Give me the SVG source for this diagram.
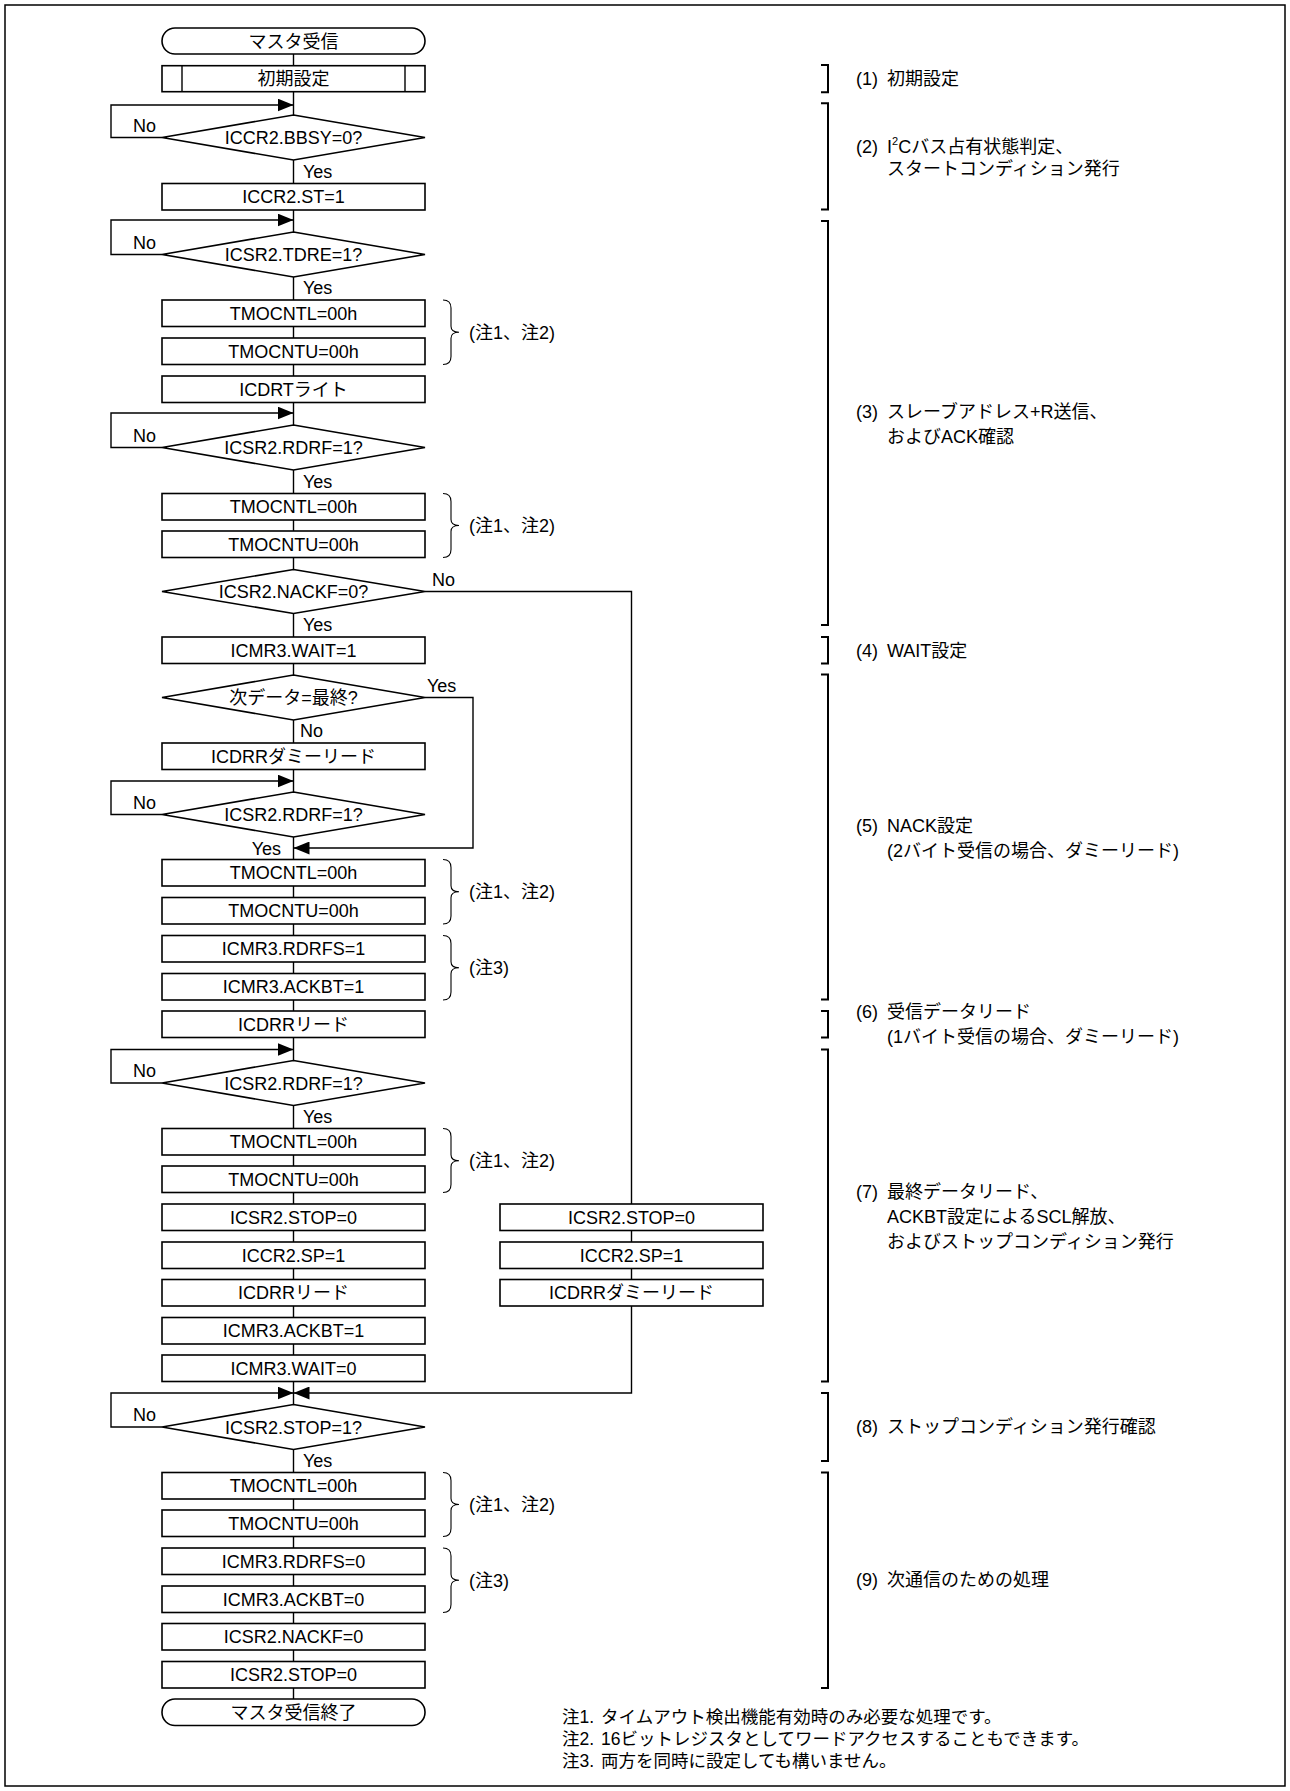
<svg xmlns="http://www.w3.org/2000/svg" width="1290" height="1791" viewBox="0 0 1290 1791">
<style>
text{font-family:"Liberation Sans","Noto Sans CJK JP",sans-serif;font-size:18px;fill:#000}
.c{text-anchor:middle}
.e{text-anchor:end}
.nt{font-size:17.5px}
.box{fill:#fff;stroke:#000;stroke-width:1.6}
.ln{fill:none;stroke:#000;stroke-width:1.4}
.br{fill:none;stroke:#000;stroke-width:2}
.bc{fill:none;stroke:#000;stroke-width:1.1}
</style>
<defs>
<marker id="ah" markerUnits="userSpaceOnUse" markerWidth="17" markerHeight="13" refX="16" refY="6.5" orient="auto">
<path d="M0,0 L16,6.5 L0,13 z" fill="#000"/>
</marker>
</defs>
<rect x="5" y="5" width="1280" height="1781" fill="#fff" stroke="#000" stroke-width="1.5"/>
<g id="connectors">
<path class="ln" d="M293.5,54 V65.7 M293.5,91.7 V115 M293.5,160 V183.5 M293.5,210 V232 M293.5,277 V300 M293.5,326.5 V338 M293.5,364.5 V376 M293.5,402.5 V425 M293.5,470 V493.5 M293.5,520 V531 M293.5,557.5 V569.5 M293.5,613.5 V637 M293.5,663.5 V675 M293.5,720 V743 M293.5,769.5 V792 M293.5,837 V859.5 M293.5,886 V897.5 M293.5,924 V935.5 M293.5,962 V973.5 M293.5,1000 V1011 M293.5,1037.5 V1060.5 M293.5,1105.5 V1128.5 M293.5,1155 V1166 M293.5,1192.5 V1204 M293.5,1230.5 V1242 M293.5,1268.5 V1279.5 M293.5,1306 V1317.5 M293.5,1344 V1355 M293.5,1381.5 V1404.5 M293.5,1449.5 V1472.5 M293.5,1499 V1510 M293.5,1536.5 V1548 M293.5,1574.5 V1586 M293.5,1612.5 V1623.5 M293.5,1650 V1661.5 M293.5,1688 V1699 M631.5,1230.5 V1242 M631.5,1268.5 V1279.5"/>
<path class="ln" d="M162,137.5 H111 V105 H293.5" marker-end="url(#ah)"/>
<path class="ln" d="M162,254.5 H111 V220 H293.5" marker-end="url(#ah)"/>
<path class="ln" d="M162,447.5 H111 V413 H293.5" marker-end="url(#ah)"/>
<path class="ln" d="M162,814.5 H111 V781 H293.5" marker-end="url(#ah)"/>
<path class="ln" d="M162,1083 H111 V1049.5 H293.5" marker-end="url(#ah)"/>
<path class="ln" d="M162,1427 H111 V1393 H293.5" marker-end="url(#ah)"/>
<path class="ln" d="M425,697.5 H473 V848 H293.5" marker-end="url(#ah)"/>
<path class="ln" d="M425,591.5 H631.5 V1204"/>
<path class="ln" d="M631.5,1306 V1393 H293.5" marker-end="url(#ah)"/>
<text x="133" y="131.5">No</text>
<text x="303" y="177.5">Yes</text>
<text x="133" y="248.5">No</text>
<text x="303" y="294">Yes</text>
<text x="133" y="441.5">No</text>
<text x="303" y="487.5">Yes</text>
<text x="432" y="586">No</text>
<text x="303" y="631">Yes</text>
<text x="427" y="692">Yes</text>
<text x="300" y="737">No</text>
<text x="133" y="808.5">No</text>
<text class="e" x="281" y="854.5">Yes</text>
<text x="133" y="1077">No</text>
<text x="303" y="1122.5">Yes</text>
<text x="133" y="1421">No</text>
<text x="303" y="1466.5">Yes</text>
</g>
<g id="n-start"><rect class="box" x="162" y="28" width="263" height="26" rx="13" ry="13"/><text class="c" x="293.5" y="47.5">マスタ受信</text></g>
<g id="n-init"><rect class="box" x="162" y="65.7" width="263" height="26"/><path class="ln" d="M182,65.7 V91.7 M405,65.7 V91.7"/><text class="c" x="293.5" y="85">初期設定</text></g>
<g id="d-bbsy"><polygon class="box" points="293.5,115 425,137.5 293.5,160 162,137.5"/><text class="c" x="293.5" y="144">ICCR2.BBSY=0?</text></g>
<g id="n-st"><rect class="box" x="162" y="183.5" width="263" height="26.5"/><text class="c" x="293.5" y="203">ICCR2.ST=1</text></g>
<g id="d-tdre"><polygon class="box" points="293.5,232 425,254.5 293.5,277 162,254.5"/><text class="c" x="293.5" y="261">ICSR2.TDRE=1?</text></g>
<g id="n-tl1"><rect class="box" x="162" y="300" width="263" height="26.5"/><text class="c" x="293.5" y="319.5">TMOCNTL=00h</text></g>
<g id="n-tu1"><rect class="box" x="162" y="338" width="263" height="26.5"/><text class="c" x="293.5" y="357.5">TMOCNTU=00h</text></g>
<g id="n-icdrt"><rect class="box" x="162" y="376" width="263" height="26.5"/><text class="c" x="293.5" y="395.5">ICDRTライト</text></g>
<g id="d-rdrf1"><polygon class="box" points="293.5,425 425,447.5 293.5,470 162,447.5"/><text class="c" x="293.5" y="454">ICSR2.RDRF=1?</text></g>
<g id="n-tl2"><rect class="box" x="162" y="493.5" width="263" height="26.5"/><text class="c" x="293.5" y="513">TMOCNTL=00h</text></g>
<g id="n-tu2"><rect class="box" x="162" y="531" width="263" height="26.5"/><text class="c" x="293.5" y="550.5">TMOCNTU=00h</text></g>
<g id="d-nackf"><polygon class="box" points="293.5,569.5 425,591.5 293.5,613.5 162,591.5"/><text class="c" x="293.5" y="598">ICSR2.NACKF=0?</text></g>
<g id="n-wait1"><rect class="box" x="162" y="637" width="263" height="26.5"/><text class="c" x="293.5" y="656.5">ICMR3.WAIT=1</text></g>
<g id="d-last"><polygon class="box" points="293.5,675 425,697.5 293.5,720 162,697.5"/><text class="c" x="293.5" y="704">次データ=最終?</text></g>
<g id="n-dummy1"><rect class="box" x="162" y="743" width="263" height="26.5"/><text class="c" x="293.5" y="762.5">ICDRRダミーリード</text></g>
<g id="d-rdrf2"><polygon class="box" points="293.5,792 425,814.5 293.5,837 162,814.5"/><text class="c" x="293.5" y="821">ICSR2.RDRF=1?</text></g>
<g id="n-tl3"><rect class="box" x="162" y="859.5" width="263" height="26.5"/><text class="c" x="293.5" y="879">TMOCNTL=00h</text></g>
<g id="n-tu3"><rect class="box" x="162" y="897.5" width="263" height="26.5"/><text class="c" x="293.5" y="917">TMOCNTU=00h</text></g>
<g id="n-rdrfs1"><rect class="box" x="162" y="935.5" width="263" height="26.5"/><text class="c" x="293.5" y="955">ICMR3.RDRFS=1</text></g>
<g id="n-ackbt1"><rect class="box" x="162" y="973.5" width="263" height="26.5"/><text class="c" x="293.5" y="993">ICMR3.ACKBT=1</text></g>
<g id="n-read1"><rect class="box" x="162" y="1011" width="263" height="26.5"/><text class="c" x="293.5" y="1030.5">ICDRRリード</text></g>
<g id="d-rdrf3"><polygon class="box" points="293.5,1060.5 425,1083 293.5,1105.5 162,1083"/><text class="c" x="293.5" y="1089.5">ICSR2.RDRF=1?</text></g>
<g id="n-tl4"><rect class="box" x="162" y="1128.5" width="263" height="26.5"/><text class="c" x="293.5" y="1148">TMOCNTL=00h</text></g>
<g id="n-tu4"><rect class="box" x="162" y="1166" width="263" height="26.5"/><text class="c" x="293.5" y="1185.5">TMOCNTU=00h</text></g>
<g id="n-stop0a"><rect class="box" x="162" y="1204" width="263" height="26.5"/><text class="c" x="293.5" y="1223.5">ICSR2.STOP=0</text></g>
<g id="n-sp1"><rect class="box" x="162" y="1242" width="263" height="26.5"/><text class="c" x="293.5" y="1261.5">ICCR2.SP=1</text></g>
<g id="n-read2"><rect class="box" x="162" y="1279.5" width="263" height="26.5"/><text class="c" x="293.5" y="1299">ICDRRリード</text></g>
<g id="n-ackbt2"><rect class="box" x="162" y="1317.5" width="263" height="26.5"/><text class="c" x="293.5" y="1337">ICMR3.ACKBT=1</text></g>
<g id="n-wait0"><rect class="box" x="162" y="1355" width="263" height="26.5"/><text class="c" x="293.5" y="1374.5">ICMR3.WAIT=0</text></g>
<g id="n-rstop0"><rect class="box" x="500" y="1204" width="263" height="26.5"/><text class="c" x="631.5" y="1223.5">ICSR2.STOP=0</text></g>
<g id="n-rsp1"><rect class="box" x="500" y="1242" width="263" height="26.5"/><text class="c" x="631.5" y="1261.5">ICCR2.SP=1</text></g>
<g id="n-rdummy"><rect class="box" x="500" y="1279.5" width="263" height="26.5"/><text class="c" x="631.5" y="1299">ICDRRダミーリード</text></g>
<g id="d-stop"><polygon class="box" points="293.5,1404.5 425,1427 293.5,1449.5 162,1427"/><text class="c" x="293.5" y="1433.5">ICSR2.STOP=1?</text></g>
<g id="n-tl5"><rect class="box" x="162" y="1472.5" width="263" height="26.5"/><text class="c" x="293.5" y="1492">TMOCNTL=00h</text></g>
<g id="n-tu5"><rect class="box" x="162" y="1510" width="263" height="26.5"/><text class="c" x="293.5" y="1529.5">TMOCNTU=00h</text></g>
<g id="n-rdrfs0"><rect class="box" x="162" y="1548" width="263" height="26.5"/><text class="c" x="293.5" y="1567.5">ICMR3.RDRFS=0</text></g>
<g id="n-ackbt0"><rect class="box" x="162" y="1586" width="263" height="26.5"/><text class="c" x="293.5" y="1605.5">ICMR3.ACKBT=0</text></g>
<g id="n-nackf0"><rect class="box" x="162" y="1623.5" width="263" height="26.5"/><text class="c" x="293.5" y="1643">ICSR2.NACKF=0</text></g>
<g id="n-stop0b"><rect class="box" x="162" y="1661.5" width="263" height="26.5"/><text class="c" x="293.5" y="1681">ICSR2.STOP=0</text></g>
<g id="n-end"><rect class="box" x="162" y="1699" width="263" height="26.5" rx="13" ry="13"/><text class="c" x="293.5" y="1718.5">マスタ受信終了</text></g>
<g id="braces">
<path class="bc" d="M443,300 Q451,300 451,308 L451,326.3 Q451,332.3 459,332.3 Q451,332.3 451,338.3 L451,356.5 Q451,364.5 443,364.5"/>
<text x="469" y="338.5">(注1、注2)</text>
<path class="bc" d="M443,493.5 Q451,493.5 451,501.5 L451,519.5 Q451,525.5 459,525.5 Q451,525.5 451,531.5 L451,549.5 Q451,557.5 443,557.5"/>
<text x="469" y="531.5">(注1、注2)</text>
<path class="bc" d="M443,859.5 Q451,859.5 451,867.5 L451,885.8 Q451,891.8 459,891.8 Q451,891.8 451,897.8 L451,916 Q451,924 443,924"/>
<text x="469" y="898">(注1、注2)</text>
<path class="bc" d="M443,935.5 Q451,935.5 451,943.5 L451,961.8 Q451,967.8 459,967.8 Q451,967.8 451,973.8 L451,992 Q451,1000 443,1000"/>
<text x="469" y="974">(注3)</text>
<path class="bc" d="M443,1128.5 Q451,1128.5 451,1136.5 L451,1154.8 Q451,1160.8 459,1160.8 Q451,1160.8 451,1166.8 L451,1184.5 Q451,1192.5 443,1192.5"/>
<text x="469" y="1167">(注1、注2)</text>
<path class="bc" d="M443,1472.5 Q451,1472.5 451,1480.5 L451,1498.5 Q451,1504.5 459,1504.5 Q451,1504.5 451,1510.5 L451,1528.5 Q451,1536.5 443,1536.5"/>
<text x="469" y="1510.5">(注1、注2)</text>
<path class="bc" d="M443,1548 Q451,1548 451,1556 L451,1574.3 Q451,1580.3 459,1580.3 Q451,1580.3 451,1586.3 L451,1604.5 Q451,1612.5 443,1612.5"/>
<text x="469" y="1586.5">(注3)</text>
</g>
<g id="steps">
<path class="br" d="M821,65 H828 V92.3 H821"/>
<text x="856" y="85">(1)</text><text x="887" y="85">初期設定</text>
<path class="br" d="M821,103.3 H828 V209.5 H821"/>
<text x="856" y="152.5">(2)</text><text x="887" y="152.5">I<tspan font-size="11" dy="-8">2</tspan><tspan dy="8">Cバス占有状態判定、</tspan></text>
<text x="887" y="174.5">スタートコンディション発行</text>
<path class="br" d="M821,221 H828 V625 H821"/>
<text x="856" y="418">(3)</text><text x="887" y="418">スレーブアドレス+R送信、</text>
<text x="887" y="442.5">およびACK確認</text>
<path class="br" d="M821,637 H828 V663.5 H821"/>
<text x="856" y="656.5">(4)</text><text x="887" y="656.5">WAIT設定</text>
<path class="br" d="M821,674.5 H828 V999.5 H821"/>
<text x="856" y="831.5">(5)</text><text x="887" y="831.5">NACK設定</text>
<text x="887" y="856.5">(2バイト受信の場合、ダミーリード)</text>
<path class="br" d="M821,1011 H828 V1037.5 H821"/>
<text x="856" y="1018">(6)</text><text x="887" y="1018">受信データリード</text>
<text x="887" y="1043">(1バイト受信の場合、ダミーリード)</text>
<path class="br" d="M821,1049.5 H828 V1381.5 H821"/>
<text x="856" y="1198">(7)</text><text x="887" y="1198">最終データリード、</text>
<text x="887" y="1223">ACKBT設定によるSCL解放、</text>
<text x="887" y="1247.5">およびストップコンディション発行</text>
<path class="br" d="M821,1393 H828 V1461 H821"/>
<text x="856" y="1433">(8)</text><text x="887" y="1433">ストップコンディション発行確認</text>
<path class="br" d="M821,1472.5 H828 V1688 H821"/>
<text x="856" y="1586">(9)</text><text x="887" y="1586">次通信のための処理</text>
</g>
<g id="notes">
<text class="nt" x="562" y="1723">注1.<tspan x="601">タイムアウト検出機能有効時のみ必要な処理です。</tspan></text>
<text class="nt" x="562" y="1745">注2.<tspan x="601">16ビットレジスタとしてワードアクセスすることもできます。</tspan></text>
<text class="nt" x="562" y="1767">注3.<tspan x="601">両方を同時に設定しても構いません。</tspan></text>
</g>
</svg>
